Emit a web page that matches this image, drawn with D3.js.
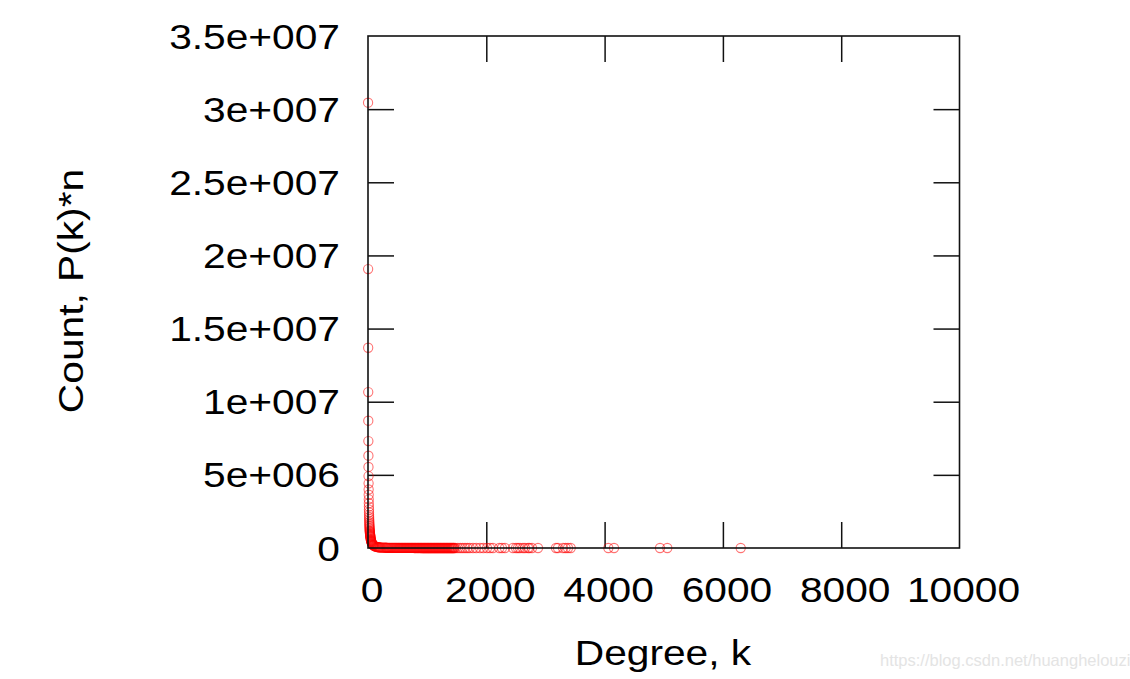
<!DOCTYPE html>
<html>
<head>
<meta charset="utf-8">
<script src="https://cdn.jsdelivr.net/npm/d3@7"></script>
<style>
  html, body { margin: 0; padding: 0; background: #fff; }
  svg { display: block; }
  text { font-family: "Liberation Sans", Arial, sans-serif; }
</style>
</head>
<body>
<svg id="chart" width="1130" height="679"></svg>
<script>
// ---- data ----
const headDegree = [1,2,3,4,5,6,7,8,9,10,11,12,13,14,15,16,17,18,19,20,21,22,23,24,25,26,27,28,29,30,31,32,33,34,35,36,37,38,39,40,42,44,46,48,50,52,54,56,58,60,65,70,75,80,85,90,95,100,110,120,130,140,150,160,170,180,190,200,210,225,240,255,270,285,300,310];
const headCount  = [30440000,19070000,13690000,10660000,8700000,7310000,6310000,5540000,4920000,4420000,4000000,3640000,3330000,3060000,2830000,2620000,2440000,2270000,2120000,1990000,1870000,1760000,1660000,1570000,1490000,1410000,1340000,1270000,1210000,1160000,1110000,1060000,1010000,970000,930000,890000,860000,820000,790000,760000,710000,660000,610000,570000,530000,500000,470000,440000,415000,390000,340000,300000,265000,235000,210000,190000,170000,155000,130000,110000,95000,83000,72000,64000,56000,50000,45000,41000,37000,32000,28000,25000,22000,19000,17000,15500];
const bandDegree = [320,330,340,350,360,370,380,390,400,410,420,430,440,450,460,470,480,490,500,510,520,530,540,550,560,570,580,590,600,610,620,630,640,650,660,670,680,690,700,710,720,730,740,750,760,770,780,790,800,810,820,830,840,850,860,870,880,890,900,910,920,930,940,950,960,970,980,990,1000,1010,1020,1030,1040,1050,1060,1070,1080,1090,1100,1110,1120,1130,1140,1150,1160,1170,1180,1190,1200,1210,1220,1230,1240,1250,1260,1270,1280,1290,1300,1310,1320,1330,1340,1350,1360,1370,1380,1390,1400,1410,1420,1430,1440,1450,1460];
const bandCount  = [14000,13200,12500,11700,11000,10400,9800,9300,8800,8300,7900,7500,7100,6700,6400,6100,5800,5500,5300,5000,4800,4600,4400,4200,4000,3850,3700,3550,3400,3250,3100,3000,2900,2800,2700,2600,2500,2400,2300,2220,2150,2070,2000,1920,1850,1780,1700,1650,1600,1550,1500,1450,1400,1350,1300,1260,1220,1180,1140,1100,1060,1020,990,960,930,900,870,840,820,790,770,740,720,700,680,660,640,620,600,580,560,545,530,515,500,485,470,455,440,430,420,410,400,390,380,370,360,350,340,330,320,310,300,290,280,270,260,250,240,230,220,210,200,195,190];
const tailDegree = [1480,1520,1560,1600,1640,1680,1720,1775,1830,1893,1950,2012,2063,2113,2220,2265,2316,2451,2502,2536,2570,2620,2654,2705,2727,2773,2874,3178,3212,3297,3340,3381,3427,4063,4159,4937,5060,6301];
const tailCount  = [9,8,8,7,7,6,6,5,5,4,4,4,3,3,3,3,3,2,2,2,2,2,2,2,2,2,2,1,1,1,1,1,1,1,1,1,1,1];

const xTickValues = [0,2000,4000,6000,8000,10000];
const xTickLabels = ["0","2000","4000","6000","8000","10000"];
const yTickValues = [0,5e6,1e7,1.5e7,2e7,2.5e7,3e7,3.5e7];
const yTickLabels = ["0","5e+006","1e+007","1.5e+007","2e+007","2.5e+007","3e+007","3.5e+007"];

const xTitle = "Degree, k";
const yTitle = "Count, P(k)*n";
const watermark = "https://blog.csdn.net/huanghelouzi";

// ---- layout ----
const L = 368, R = 959.5, T = 36, B = 548;
const FS = 34.5, SX = 1.18, TICK = 26;

const svg = d3.select("#chart");
const x = d3.scaleLinear().domain([0, 10000]).range([L, R]);
const y = d3.scaleLinear().domain([0, 3.5e7]).range([B, T]);

const points = [];
headDegree.forEach((k, i) => points.push({k, c: headCount[i]}));
bandDegree.forEach((k, i) => points.push({k, c: bandCount[i]}));
tailDegree.forEach((k, i) => points.push({k, c: tailCount[i]}));

// ticks via d3 axes (inward, mirrored)
function styleAxis(g) {
  g.select(".domain").remove();
  g.selectAll("text").remove();
  g.selectAll("line").attr("stroke", "#111").attr("stroke-width", 1.5);
}
svg.append("g").attr("transform", `translate(0,${B})`)
  .call(d3.axisBottom(x).tickValues(xTickValues.slice(1, -1)).tickSize(-TICK)).call(styleAxis);
svg.append("g").attr("transform", `translate(0,${T})`)
  .call(d3.axisTop(x).tickValues(xTickValues.slice(1, -1)).tickSize(-TICK)).call(styleAxis);
svg.append("g").attr("transform", `translate(${L},0)`)
  .call(d3.axisLeft(y).tickValues(yTickValues.slice(1, -1)).tickSize(-TICK)).call(styleAxis);
svg.append("g").attr("transform", `translate(${R},0)`)
  .call(d3.axisRight(y).tickValues(yTickValues.slice(1, -1)).tickSize(-TICK)).call(styleAxis);

// points
svg.append("g").selectAll("circle").data(points).join("circle")
  .attr("cx", d => x(d.k))
  .attr("cy", d => y(d.c))
  .attr("r", 4.6)
  .attr("fill", "none")
  .attr("stroke", "#ff0000")
  .attr("stroke-opacity", 0.55)
  .attr("stroke-width", 1.1);

// frame
svg.append("rect")
  .attr("x", L).attr("y", T).attr("width", R - L).attr("height", B - T)
  .attr("fill", "none").attr("stroke", "#111").attr("stroke-width", 1.6);

// tick labels
svg.append("g").selectAll("text").data(yTickValues).join("text")
  .attr("transform", d => `translate(340,${y(d) + 12.5}) scale(${SX},1)`)
  .attr("text-anchor", "end")
  .attr("font-size", FS)
  .attr("fill", "#000")
  .text((d, i) => yTickLabels[i]);

svg.append("g").selectAll("text").data(xTickValues).join("text")
  .attr("transform", d => `translate(${x(d) + 4},${601.5}) scale(${SX},1)`)
  .attr("text-anchor", "middle")
  .attr("font-size", FS)
  .attr("fill", "#000")
  .text((d, i) => xTickLabels[i]);

// axis titles
svg.append("text")
  .attr("transform", `translate(663,665) scale(${SX},1)`)
  .attr("text-anchor", "middle")
  .attr("font-size", FS)
  .text(xTitle);

svg.append("text")
  .attr("transform", `translate(83,291) rotate(-90) scale(${SX},1)`)
  .attr("text-anchor", "middle")
  .attr("font-size", FS)
  .text(yTitle);

svg.append("text")
  .attr("x", 880).attr("y", 666)
  .attr("font-size", 16.5)
  .attr("fill", "#e4e4e4")
  .text(watermark);
</script>
</body>
</html>
